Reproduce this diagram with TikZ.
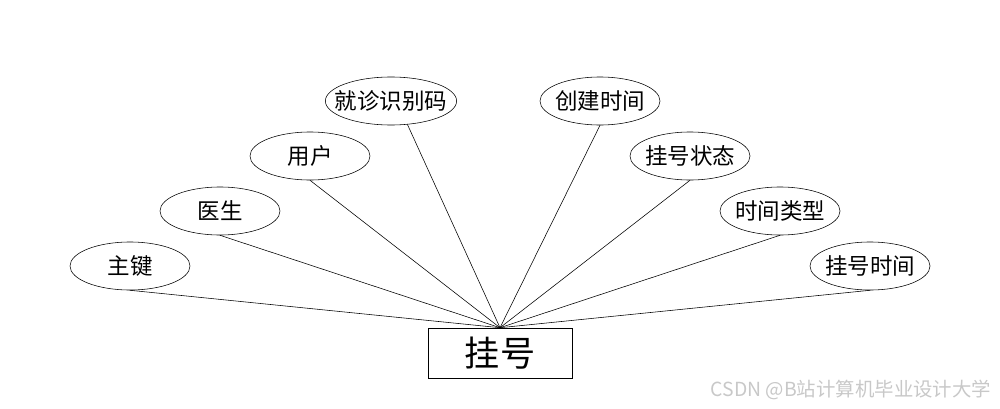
\documentclass[tikz,border=0pt]{standalone}
\usepackage{fontspec}
\setmainfont{Noto Sans CJK SC}
\usetikzlibrary{shapes.geometric}
\definecolor{markgray}{RGB}{200,200,200}

\begin{document}
\begin{tikzpicture}[x=0.025cm,y=-0.025cm,line cap=round,
  attr/.style={draw,ellipse,minimum width=3cm,minimum height=1.2cm,inner xsep=-7pt,inner ysep=0pt,font=\fontsize{16pt}{18pt}\selectfont},
  entbox/.style={draw,rectangle,minimum width=3.6cm,minimum height=1.25cm,inner sep=0pt,font=\fontsize{25pt}{28pt}\selectfont}]
  \useasboundingbox (0,0) rectangle (1000,408);
  % entity
  \node[entbox] (gh) at (500,353) {挂号};
  % attributes
  \foreach \n/\x/\y/\t in {zj/130/266/主键, ys/220/211/医生, yh/310/156/用户, jz/391/101/就诊识别码,
                           cj/600/101/创建时间, zt/690/156/挂号状态, lx/780/211/时间类型, sj/870/266/挂号时间}
    \node[attr] (\n) at (\x,\y) {\t};
  % links
  \foreach \n/\a in {zj/south, ys/south, yh/south, jz/-55, cj/south, zt/south, lx/south, sj/south}
    \draw (\n.\a) -- (gh.north);
  % watermark
  \node[anchor=east,text=markgray,font=\fontsize{13.8pt}{15pt}\selectfont] (wm) at (996,390) {CSDN @B站计算机毕业设计大学};
\end{tikzpicture}
\end{document}
